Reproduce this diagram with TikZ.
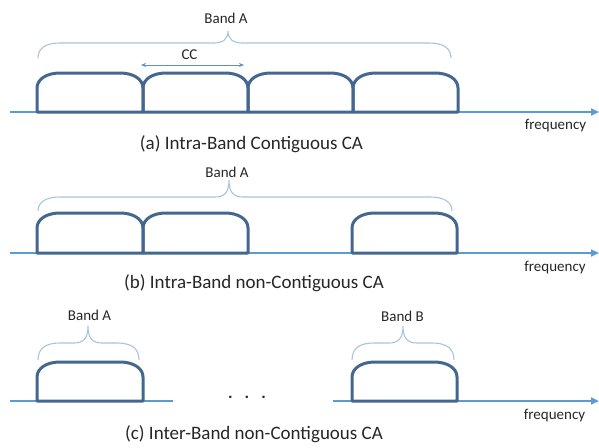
\documentclass[tikz,border=0pt]{standalone}
\usepackage{fontspec}
\setmainfont{Carlito}
\usetikzlibrary{arrows.meta}
\definecolor{axisblue}{HTML}{5B9BD5}
\definecolor{boxblue}{HTML}{44678F}
\definecolor{braceblue}{HTML}{A8C4DD}
\definecolor{ccblue}{HTML}{5E8FC6}
\definecolor{txt}{HTML}{262626}
\newcommand\carrierbox[4]{%
  \draw[carrier] (#1,#3) -- (#1,{#4+15}) .. controls (#1,{#4+6}) and ({#1+10},#4) .. ({#1+23},#4)
    -- ({#2-23},#4) .. controls ({#2-10},#4) and (#2,{#4+6}) .. (#2,{#4+15}) -- (#2,#3) -- cycle;}
\newcommand\bandbrace[6]{%
  \draw[bracestyle] (#1,#4) .. controls (#1,{#5+5}) and ({#1+8},#5) .. ({#1+22},#5)
    -- ({#2-14},#5) .. controls ({#2-5},#5) and (#2,{#5-4}) .. (#2,#6)
    .. controls (#2,{#5-4}) and ({#2+5},#5) .. ({#2+14},#5)
    -- ({#3-22},#5) .. controls ({#3-8},#5) and (#3,{#5+5}) .. (#3,#4);}
\tikzset{
  axis/.style={draw=axisblue, line width=2.4pt, -{Triangle[length=8pt,width=7pt]}},
  axisplain/.style={draw=axisblue, line width=2.4pt},
  carrier/.style={draw=boxblue, line width=3pt, line join=round},
  bracestyle/.style={draw=braceblue, line width=1.1pt},
  ccarrow/.style={draw=ccblue, line width=1pt, {Stealth[length=5pt,width=4pt]}-{Stealth[length=5pt,width=4pt]}},
  caption/.style={text=txt, font=\fontsize{19}{22}\selectfont, inner sep=0pt},
  small/.style={text=txt, font=\fontsize{15}{18}\selectfont, inner sep=0pt},
}
\begin{document}
\begin{tikzpicture}[x=1pt,y=-1pt]
\useasboundingbox (0,0) rectangle (599,447);
% ---------- (a)
\coordinate (a0) at (10,112);
\coordinate (a1) at (599,112);
\draw[axis] (a0) -- (a1);
\carrierbox{37}{143}{112}{73}
\carrierbox{143}{248}{112}{73}
\carrierbox{248}{353}{112}{73}
\carrierbox{353}{458}{112}{73}
\bandbrace{38}{228}{451}{58}{43}{31}
\coordinate (cc0) at (141,65);
\coordinate (cc1) at (244,65);
\draw[ccarrow] (cc0) -- (cc1);
\node[small] (cca) at (189.5,55) {CC};
\node[small] (banda1) at (226,18) {Band A};
\node[small] (freqa) at (555.5,126) {frequency};
\node[caption] (capa) at (251.5,144) {(a) Intra-Band Contiguous CA};
% ---------- (b)
\coordinate (b0) at (10,253);
\coordinate (b1) at (599,253);
\draw[axis] (b0) -- (b1);
\carrierbox{37}{143}{253}{213}
\carrierbox{143}{248}{253}{213}
\carrierbox{352}{457}{253}{213}
\bandbrace{38}{229}{452}{211}{197}{180}
\node[small] (banda2) at (227,172) {Band A};
\node[small] (freqb) at (555,268) {frequency};
\node[caption] (capb) at (254,283) {(b) Intra-Band non-Contiguous CA};
% ---------- (c)
\coordinate (c0) at (10,401);
\coordinate (c1) at (173,401);
\coordinate (c2) at (333,401);
\coordinate (c3) at (599,401);
\draw[axisplain] (c0) -- (c1);
\draw[axis] (c2) -- (c3);
\carrierbox{37}{143}{401}{362}
\carrierbox{352}{457}{401}{362}
\bandbrace{38}{88}{139}{360}{343}{326}
\bandbrace{352}{403}{454}{360}{343}{326}
\node[small] (banda3) at (89.5,315) {Band A};
\node[small] (bandb) at (402.5,316) {Band B};
\node[text=txt, font=\fontsize{17}{18}\selectfont\bfseries, inner sep=0pt] (dots) at (247,397.5) {.\hspace{12pt}.\hspace{12pt}.};
\node[small] (freqc) at (554.5,416) {frequency};
\node[caption] (capc) at (254,434) {(c) Inter-Band non-Contiguous CA};
\end{tikzpicture}
\end{document}
